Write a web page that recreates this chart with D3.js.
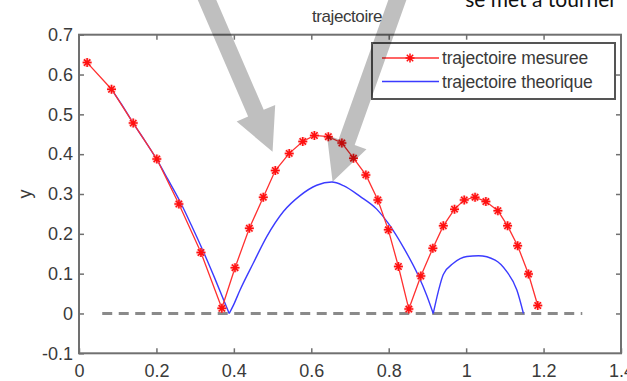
<!DOCTYPE html>
<html>
  <head>
    <meta charset="utf-8">
    <title>trajectoire</title>
    <script src="https://d3js.org/d3.v7.min.js"></script>
    <style>
      body { margin: 0; background: #fff; }
      svg { display: block; }
      .tick text, .label { font-family: "Liberation Sans", Arial, sans-serif; fill: #3a3a3a; }
      .domain { display: none; }
      .tick line { stroke: #707070; stroke-width: 1.5; }
    </style>
  </head>
  <body>
    <svg id="chart" width="627" height="381"></svg>
    <script>
      // measured points (red stars)
      measuredX = [0.021, 0.084, 0.140, 0.201, 0.258, 0.315, 0.369, 0.403, 0.440, 0.476, 0.507, 0.543, 0.578, 0.608,
        0.644, 0.679, 0.709, 0.741, 0.772, 0.799, 0.825, 0.852, 0.883, 0.914, 0.941, 0.970, 0.995, 1.023, 1.051,
        1.082, 1.107, 1.133, 1.161, 1.185];
      measuredY = [0.630, 0.563, 0.478, 0.388, 0.275, 0.153, 0.013, 0.115, 0.214, 0.292, 0.359, 0.402, 0.432, 0.447,
        0.444, 0.428, 0.390, 0.348, 0.285, 0.210, 0.118, 0.011, 0.094, 0.164, 0.220, 0.262, 0.285, 0.292, 0.281,
        0.258, 0.220, 0.170, 0.099, 0.020];
      // theoretical trajectory (blue line), one array per bounce
      theoryX1 = [0.084, 0.11, 0.14, 0.17, 0.20, 0.23, 0.26, 0.29, 0.32, 0.35, 0.388];
      theoryY1 = [0.563, 0.525, 0.478, 0.434, 0.388, 0.336, 0.283, 0.222, 0.158, 0.09, 0.0];
      theoryX2 = [0.388, 0.399, 0.416, 0.45, 0.485, 0.528, 0.571, 0.614, 0.653, 0.683, 0.726, 0.769, 0.80, 0.838,
        0.877, 0.898, 0.915];
      theoryY2 = [0.0, 0.021, 0.059, 0.126, 0.193, 0.256, 0.296, 0.322, 0.330, 0.321, 0.294, 0.262, 0.225, 0.166,
        0.094, 0.046, 0.0];
      theoryX3 = [0.915, 0.928, 0.941, 0.967, 1.002, 1.032, 1.075, 1.105, 1.131, 1.148];
      theoryY3 = [0.0, 0.055, 0.098, 0.126, 0.143, 0.145, 0.134, 0.105, 0.059, 0.0];
      // ground line
      groundX = [0.06, 1.3];
      xTicks = [0, 0.2, 0.4, 0.6, 0.8, 1, 1.2, 1.4];
      yTicks = [-0.1, 0, 0.1, 0.2, 0.3, 0.4, 0.5, 0.6, 0.7];
      seriesNames = ["trajectoire mesuree", "trajectoire theorique"];
      // slide annotation arrows [tailX, tailY, tipX, tipY] in data units
      arrowLeft = [0.325, 0.80, 0.500, 0.406];
      arrowRight = [0.827, 0.80, 0.655, 0.331];

      svg = d3.select("#chart");
      x = d3.scaleLinear().domain([0, 1.4]).range([79, 621]);
      y = d3.scaleLinear().domain([-0.1, 0.7]).range([353.3, 34.7]);
      fmt = function(d) { return String(+d.toFixed(1)); };

      // axes, ticks pointing inward on all four sides
      svg.append("g").attr("transform", "translate(0," + y(-0.1) + ")")
        .call(d3.axisBottom(x).tickValues(xTicks).tickFormat(fmt).tickSize(-5).tickPadding(11))
        .selectAll("text").style("font-size", "18px");
      svg.append("g").attr("transform", "translate(0," + y(0.7) + ")")
        .call(d3.axisTop(x).tickValues(xTicks.slice(1, -1)).tickFormat("").tickSize(-5));
      svg.append("g").attr("transform", "translate(" + x(0) + ",0)")
        .call(d3.axisLeft(y).tickValues(yTicks).tickFormat(fmt).tickSize(-5).tickPadding(6))
        .selectAll("text").style("font-size", "18px");
      svg.append("g").attr("transform", "translate(" + x(1.4) + ",0)")
        .call(d3.axisRight(y).tickValues(yTicks.slice(1, -1)).tickFormat("").tickSize(-5));
      svg.append("rect")
        .attr("x", x(0)).attr("y", y(0.7))
        .attr("width", x(1.4) - x(0)).attr("height", y(-0.1) - y(0.7))
        .attr("fill", "none").attr("stroke", "#707070").attr("stroke-width", 2);

      // labels
      svg.append("text").attr("class", "label")
        .attr("x", (x(0) + x(1.4)) / 2 - 3).attr("y", 22)
        .attr("text-anchor", "middle").style("font-size", "17px").style("letter-spacing", "-0.4px")
        .text("trajectoire");
      svg.append("text").attr("class", "label")
        .attr("transform", "translate(31," + y(0.3) + ") rotate(-90)")
        .attr("text-anchor", "middle").style("font-size", "18px")
        .text("y");

      // ground dashed line
      svg.append("line")
        .attr("x1", x(groundX[0])).attr("x2", x(groundX[1]))
        .attr("y1", y(0)).attr("y2", y(0))
        .attr("stroke", "#8a8a8a").attr("stroke-width", 3).attr("stroke-dasharray", "10,6.5");

      measured = measuredX.map(function(d, i) { return [d, measuredY[i]]; });
      line = d3.line().x(function(d) { return x(d[0]); }).y(function(d) { return y(d[1]); });
      smooth = d3.line().x(function(d) { return x(d[0]); }).y(function(d) { return y(d[1]); })
        .curve(d3.curveMonotoneX);

      [[theoryX1, theoryY1], [theoryX2, theoryY2], [theoryX3, theoryY3]].forEach(function(s) {
        pts = s[0].map(function(d, i) { return [d, s[1][i]]; });
        svg.append("path").attr("d", smooth(pts))
          .attr("fill", "none").attr("stroke", "#3b3bff").attr("stroke-width", 1.4);
      });
      svg.append("path").attr("d", line(measured))
        .attr("fill", "none").attr("stroke", "#ff3030").attr("stroke-width", 1.3);

      star = "M-4.5,0H4.5M0,-4.5V4.5M-3.2,-3.2L3.2,3.2M-3.2,3.2L3.2,-3.2";
      stars = svg.append("g").selectAll("g").data(measured).join("g")
        .attr("transform", function(d) { return "translate(" + x(d[0]) + "," + y(d[1]) + ")"; });
      stars.append("path").attr("d", star).attr("stroke", "#ff8080").attr("stroke-width", 3.2).attr("opacity", 0.45);
      stars.append("path").attr("d", star).attr("stroke", "#ff1010").attr("stroke-width", 1.5);

      // legend
      legend = svg.append("g").attr("transform", "translate(372,43)");
      legend.append("rect").attr("width", 243).attr("height", 56)
        .attr("fill", "#fff").attr("stroke", "#555").attr("stroke-width", 2);
      legendColours = ["#ff3030", "#3b3bff"];
      seriesNames.forEach(function(name, i) {
        row = legend.append("g").attr("transform", "translate(0," + (15 + i * 23.5) + ")");
        row.append("line").attr("x1", 10).attr("x2", 67)
          .attr("stroke", legendColours[i]).attr("stroke-width", 1.4);
        if (i === 0) {
          row.append("path").attr("transform", "translate(38,0)").attr("d", star)
            .attr("stroke", "#ff1010").attr("stroke-width", 1.5);
        }
        row.append("text").attr("class", "label").attr("x", 70).attr("y", 6)
          .style("font-size", "17.5px").style("letter-spacing", "-0.2px").text(name);
      });

      // slide overlay: arrows and cut-off caption
      function arrow(a) {
        p0 = [x(a[0]), y(a[1])];
        p1 = [x(a[2]), y(a[3])];
        dx = p1[0] - p0[0]; dy = p1[1] - p0[1];
        len = Math.sqrt(dx * dx + dy * dy);
        ux = dx / len; uy = dy / len; nx = -uy; ny = ux;
        b = [p1[0] - ux * 42, p1[1] - uy * 42];
        w = 8.5; hw = 21;
        return [
          [p0[0] + nx * w, p0[1] + ny * w], [b[0] + nx * w, b[1] + ny * w], [b[0] + nx * hw, b[1] + ny * hw],
          p1, [b[0] - nx * hw, b[1] - ny * hw], [b[0] - nx * w, b[1] - ny * w], [p0[0] - nx * w, p0[1] - ny * w]
        ];
      }
      [arrowLeft, arrowRight].forEach(function(a) {
        svg.append("polygon").attr("points", arrow(a).join(" "))
          .attr("fill", "#000").attr("fill-opacity", 0.25);
      });
      svg.append("text").attr("x", 617).attr("y", 7).attr("text-anchor", "end")
        .style("font-family", "Lato, sans-serif").style("font-size", "21px").style("fill", "#111")
        .text("se met à tourner");
    </script>
  </body>
</html>
